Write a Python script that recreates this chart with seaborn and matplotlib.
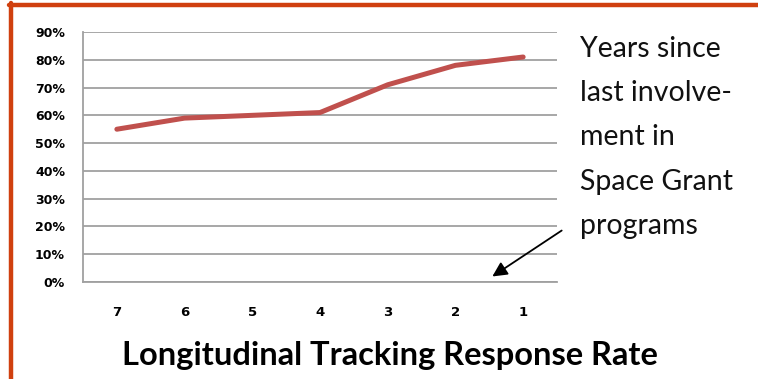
import numpy as np
import pandas as pd
import matplotlib
matplotlib.use('Agg')
import matplotlib.pyplot as plt
from matplotlib.lines import Line2D
import seaborn as sns

# data
years = ['7', '6', '5', '4', '3', '2', '1']
response_rate = [0.55, 0.59, 0.60, 0.61, 0.71, 0.78, 0.81]
y_ticks = [0.0, 0.1, 0.2, 0.3, 0.4, 0.5, 0.6, 0.7, 0.8, 0.9]
note_lines = ['Years since', 'last involve-', 'ment in', 'Space Grant', 'programs']

sns.set_style('white')
plt.rcParams['font.family'] = ['Lato', 'DejaVu Sans']
plt.rcParams['text.color'] = 'black'
plt.rcParams['xtick.labelcolor'] = 'black'
plt.rcParams['ytick.labelcolor'] = 'black'

df = pd.DataFrame({'years': years, 'rate': response_rate})

fig = plt.figure(figsize=(7.58, 3.79), dpi=100)
ax = fig.add_axes([83 / 758, 1 - 282 / 379, (557 - 83) / 758, 250 / 379])

sns.lineplot(data=df, x='years', y='rate', color='#c0504d', lw=3.6, ax=ax,
             sort=False)

ax.set_ylim(0, 0.9)
ax.set_xlim(-0.5, len(years) - 0.5)
ax.set_yticks(y_ticks)
ax.set_yticklabels([f'{int(round(t * 100))}%' for t in y_ticks],
                   fontsize=9, fontweight='bold', family='DejaVu Sans')
ax.set_xticks(range(len(years)))
ax.set_xticklabels(years, fontsize=9.5, fontweight='bold', family='DejaVu Sans')
ax.set_xticks(np.arange(-0.5, len(years)), minor=True)
ax.tick_params(axis='x', which='major', length=0, pad=17, labelcolor='black')
ax.tick_params(axis='x', which='minor', length=5, width=1.2, color='#a0a0a0',
               direction='out')
ax.tick_params(axis='y', which='major', length=6, width=1.2, color='#a0a0a0',
               direction='out', pad=7, labelcolor='black')
ax.yaxis.grid(True, color='#a0a0a0', lw=1.3)
ax.set_axisbelow(True)
for side in ['top', 'right']:
    ax.spines[side].set_visible(False)
for side in ['left', 'bottom']:
    ax.spines[side].set_color('#a0a0a0')
    ax.spines[side].set_linewidth(1.3)
ax.set_xlabel('')
ax.set_ylabel('')

# title below the chart
fig.text(390 / 758, 1 - 365 / 379, 'Longitudinal Tracking Response Rate',
         ha='center', va='baseline', fontsize=23.5, fontweight='bold',
         color='black')

# side note, one line at a time
baselines = [57, 101, 145, 190, 234]
for line, yb in zip(note_lines, baselines):
    fig.text(580 / 758, 1 - yb / 379, line, ha='left', va='baseline',
             fontsize=20.5, color='#111111')

ax.annotate('', xy=(490, 379 - 278), xycoords='figure pixels',
            xytext=(564, 379 - 229), textcoords='figure pixels',
            arrowprops=dict(arrowstyle='-|>', color='black', lw=1.3,
                            mutation_scale=22))

# orange frame edges
frame = '#d0400f'
fig.add_artist(Line2D([11 / 758, 11 / 758], [0, 1 - 3 / 379],
                      transform=fig.transFigure, color=frame, lw=3.2))
fig.add_artist(Line2D([9 / 758, 1], [1 - 4.5 / 379, 1 - 4.5 / 379],
                      transform=fig.transFigure, color=frame, lw=3.2))

fig.savefig('out.png', dpi=100)
